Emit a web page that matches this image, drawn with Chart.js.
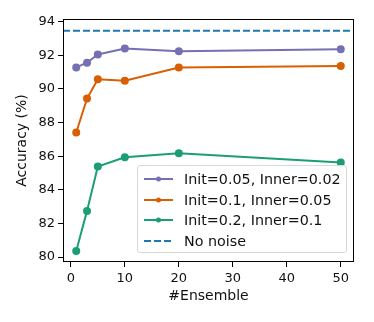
<!DOCTYPE html>
<html>
<head>
<meta charset="utf-8">
<script src="https://cdn.jsdelivr.net/npm/chart.js@4"></script>
<style>
  html, body { margin: 0; padding: 0; background: #fff; }
  #wrap { position: relative; width: 374px; height: 322px; }
  #legend {
    position: absolute; left: 137px; top: 165px; width: 210px; height: 88px;
    border: 1px solid #d8d8d8; border-radius: 3px; background: rgba(255,255,255,0.85);
    font-family: "DejaVu Sans", sans-serif; font-size: 14.3px; color: #111;
    box-sizing: border-box;
  }
  .row { position: absolute; left: 0; height: 20px; line-height: 20px; white-space: nowrap; }
  .row span { position: absolute; left: 46px; top: 0; }
  .row canvas { position: absolute; left: 5px; top: 0; }
</style>
</head>
<body>
<div id="wrap">
  <canvas id="chart" width="374" height="322"></canvas>
  <div id="legend"></div>
</div>
<script>
// dados
const ensembles = [1, 3, 5, 10, 20, 50];
const accLow = [91.28, 91.56, 92.05, 92.41, 92.24, 92.36];
const accMid = [87.41, 89.43, 90.57, 90.49, 91.28, 91.36];
const accHigh = [80.37, 82.75, 85.39, 85.94, 86.18, 85.63];
const noNoise = 93.46;
const xLimits = [-1.45, 52.45];
const yLimits = [79.71, 94.16];
const yTicks = [80, 82, 84, 86, 88, 90, 92, 94];
const xTicks = [0, 10, 20, 30, 40, 50];

const series = [
    { label: 'Init=0.05, Inner=0.02', data: accLow, color: '#7570b3' },
    { label: 'Init=0.1, Inner=0.05', data: accMid, color: '#d95f02' },
    { label: 'Init=0.2, Inner=0.1', data: accHigh, color: '#1b9e77' }
];
const noiseColor = '#1f77b4';

const datasets = series.map(s => ({
    label: s.label,
    data: ensembles.map((x, i) => ({ x: x, y: s.data[i] })),
    borderColor: s.color,
    backgroundColor: s.color,
    borderWidth: 2,
    pointRadius: 3,
    pointHoverRadius: 3,
    tension: 0
}));
datasets.push({
    label: 'No noise',
    data: xLimits.map(x => ({ x: x, y: noNoise })),
    borderColor: noiseColor,
    borderWidth: 2,
    borderDash: [7, 3],
    pointRadius: 0
});

// moldura completa como no matplotlib
const frame = {
    id: 'frame',
    afterDraw(chart) {
        const { ctx, chartArea: a } = chart;
        ctx.save();
        ctx.strokeStyle = '#000';
        ctx.lineWidth = 1;
        ctx.strokeRect(a.left + 0.5, a.top + 0.5, a.right - a.left - 1, a.bottom - a.top - 1);
        ctx.restore();
    }
};

const tickFont = { family: 'DejaVu Sans', size: 13 };
const titleFont = { family: 'DejaVu Sans', size: 14 };

new Chart(document.getElementById('chart'), {
    type: 'line',
    data: { datasets: datasets },
    options: {
        responsive: false,
        animation: false,
        layout: { padding: { left: 12, right: 20, top: 19, bottom: 15 } },
        plugins: { legend: { display: false }, tooltip: { enabled: false } },
        scales: {
            x: {
                type: 'linear',
                min: xLimits[0], max: xLimits[1],
                afterBuildTicks: ax => { ax.ticks = xTicks.map(v => ({ value: v })); },
                afterFit: ax => { ax.height = 45; },
                grid: { drawOnChartArea: false, drawTicks: true, tickLength: 5, color: '#000' },
                border: { display: false },
                ticks: { color: '#111', font: tickFont, padding: 4, maxRotation: 0 },
                title: { display: true, text: '#Ensemble', color: '#111', font: titleFont, padding: { top: 0, bottom: 2 } }
            },
            y: {
                type: 'linear',
                min: yLimits[0], max: yLimits[1],
                afterBuildTicks: ax => { ax.ticks = yTicks.map(v => ({ value: v })); },
                afterFit: ax => { ax.width = 51; },
                grid: { drawOnChartArea: false, drawTicks: true, tickLength: 5, color: '#000' },
                border: { display: false },
                ticks: { color: '#111', font: tickFont, padding: 3 },
                title: { display: true, text: 'Accuracy (%)', color: '#111', font: titleFont, padding: { top: 2, bottom: 2 } }
            }
        }
    },
    plugins: [frame]
});

// legenda em HTML dentro da área do gráfico
const legend = document.getElementById('legend');
datasets.forEach((d, i) => {
    const row = document.createElement('div');
    row.className = 'row';
    row.style.top = (3 + i * 20.7) + 'px';
    const c = document.createElement('canvas');
    c.width = 32; c.height = 20;
    const g = c.getContext('2d');
    g.strokeStyle = d.borderColor;
    g.lineWidth = 2;
    if (d.borderDash) g.setLineDash(d.borderDash);
    g.beginPath(); g.moveTo(1, 10); g.lineTo(30, 10); g.stroke();
    if (d.pointRadius) {
        g.fillStyle = d.borderColor;
        g.beginPath(); g.arc(15.5, 10, 2.5, 0, Math.PI * 2); g.fill();
    }
    const t = document.createElement('span');
    t.textContent = d.label;
    row.appendChild(c);
    row.appendChild(t);
    legend.appendChild(row);
});
</script>
</body>
</html>
